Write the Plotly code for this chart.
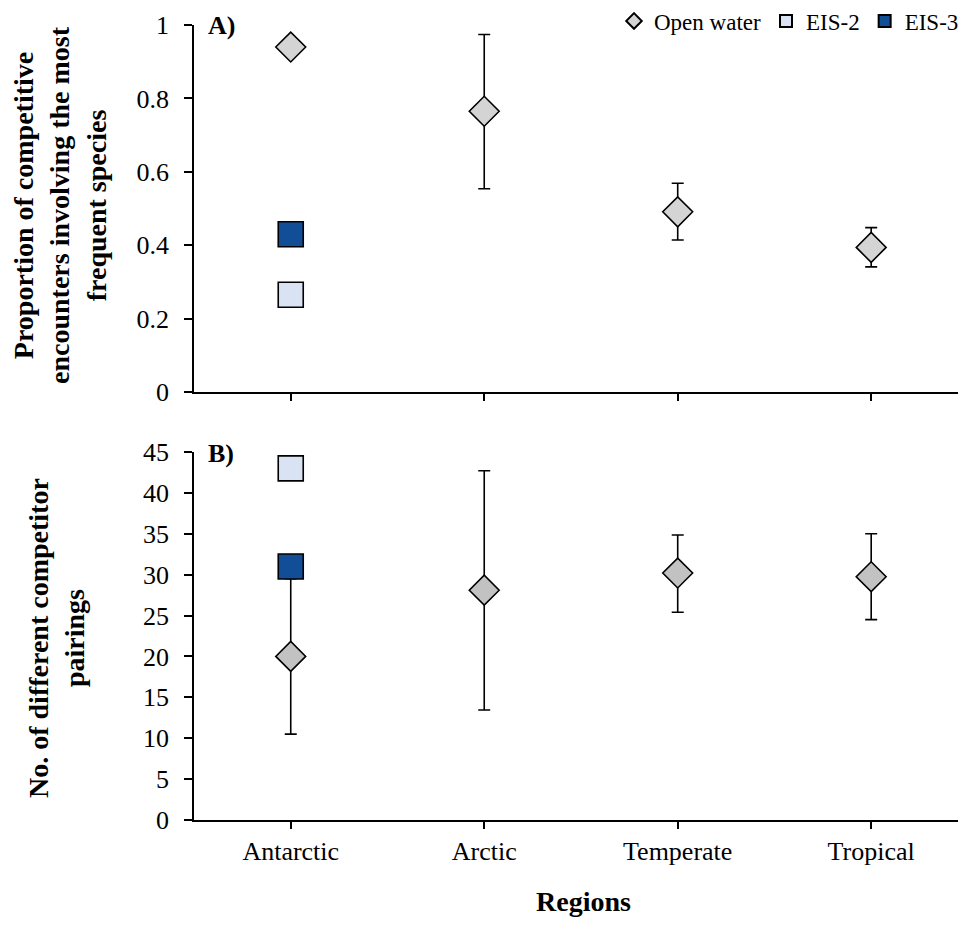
import plotly.graph_objects as go

regions = ["Antarctic", "Arctic", "Temperate", "Tropical"]

# Panel A: proportion of competitive encounters involving the most frequent species
a_open = [0.94, 0.765, 0.491, 0.394]
a_open_err_plus = [0.0, 0.209, 0.078, 0.054]
a_open_err_minus = [0.0, 0.211, 0.077, 0.053]
a_eis2 = [0.265]
a_eis3 = [0.43]

# Panel B: number of different competitor pairings
b_open = [20.0, 28.1, 30.2, 29.75]
b_open_err_plus = [9.5, 14.6, 4.65, 5.25]
b_open_err_minus = [9.5, 14.65, 4.8, 5.25]
b_eis2 = [43.0]
b_eis3 = [31.0]

a_ticks = [0, 0.2, 0.4, 0.6, 0.8, 1]
a_ticktext = ["0", "0.2", "0.4", "0.6", "0.8", "1"]
b_ticks = [0, 5, 10, 15, 20, 25, 30, 35, 40, 45]

FONT = "Liberation Serif, Times New Roman, serif"
GRAY_A = "#d4d4d4"
GRAY_B = "#c2c2c2"
EIS2_C = "#dae3f3"
EIS3_C = "#124e97"
LINE = dict(color="black", width=1.6)

fig = go.Figure()

def err(plus, minus):
    return dict(type="data", symmetric=False, array=plus, arrayminus=minus,
                color="black", thickness=1.6, width=6)

# Panel A
fig.add_trace(go.Scatter(x=regions, y=a_open, mode="markers", name="Open water",
                         marker=dict(symbol="diamond", size=23, color=GRAY_A, line=LINE),
                         error_y=err(a_open_err_plus, a_open_err_minus),
                         xaxis="x", yaxis="y"))
fig.add_trace(go.Scatter(x=regions[:1], y=a_eis2, mode="markers", name="EIS-2",
                         marker=dict(symbol="square", size=25, color=EIS2_C, line=LINE),
                         xaxis="x", yaxis="y"))
fig.add_trace(go.Scatter(x=regions[:1], y=a_eis3, mode="markers", name="EIS-3",
                         marker=dict(symbol="square", size=25, color=EIS3_C, line=LINE),
                         xaxis="x", yaxis="y"))

# Panel B
fig.add_trace(go.Scatter(x=regions, y=b_open, mode="markers", name="Open water", showlegend=False,
                         marker=dict(symbol="diamond", size=23, color=GRAY_B, line=LINE),
                         error_y=err(b_open_err_plus, b_open_err_minus),
                         xaxis="x2", yaxis="y2"))
fig.add_trace(go.Scatter(x=regions[:1], y=b_eis2, mode="markers", name="EIS-2", showlegend=False,
                         marker=dict(symbol="square", size=25, color=EIS2_C, line=LINE),
                         xaxis="x2", yaxis="y2"))
fig.add_trace(go.Scatter(x=regions[:1], y=b_eis3, mode="markers", name="EIS-3", showlegend=False,
                         marker=dict(symbol="square", size=25, color=EIS3_C, line=LINE),
                         xaxis="x2", yaxis="y2"))

# page body has an 8px margin; figure coordinates are screen coordinates minus 8
OFF = 8
W, H = 958, 910

def px(x):
    return (x - OFF) / W

def py(y):
    return 1 - (y - OFF) / H

x_dom = [px(194), 1.0]
ya_dom = [py(392), py(25)]
yb_dom = [py(820), py(452)]

xcommon = dict(type="category", categoryorder="array", categoryarray=regions,
               range=[-0.5, 3.49], showline=True, linecolor="black", linewidth=1.5,
               ticks="outside", ticklen=7, tickcolor="black", tickwidth=1.5,
               showgrid=False, zeroline=False, domain=x_dom, automargin=False,
               ticklabelstandoff=0,
               tickfont=dict(family=FONT, size=26, color="black"))
ycommon = dict(showline=True, linecolor="black", linewidth=1.5,
               ticks="outside", ticklen=8, tickcolor="black", tickwidth=1.5,
               showgrid=False, zeroline=False, automargin=False,
               ticklabelstandoff=10,
               tickfont=dict(family=FONT, size=26, color="black"))

fig.update_layout(
    width=W, height=H,
    margin=dict(l=0, r=0, t=0, b=0, autoexpand=False),
    paper_bgcolor="white", plot_bgcolor="white",
    font=dict(family=FONT, color="black"),
    xaxis=dict(xcommon, anchor="y", showticklabels=False),
    yaxis=dict(ycommon, domain=ya_dom, range=[0, 1], tickvals=a_ticks, ticktext=a_ticktext, anchor="x"),
    xaxis2=dict(xcommon, anchor="y2"),
    yaxis2=dict(ycommon, domain=yb_dom, range=[0, 45], tickvals=b_ticks, anchor="x2"),
    legend=dict(orientation="h", x=px(964), xanchor="right", y=py(21), yanchor="middle",
                font=dict(family=FONT, size=23, color="black"),
                itemsizing="constant", itemwidth=30, tracegroupgap=0,
                bgcolor="rgba(0,0,0,0)"),
    showlegend=True,
)

annos = [
    dict(text="<b>A)</b>", x=px(206), y=py(25), xref="paper", yref="paper",
         xanchor="left", yanchor="middle", showarrow=False, font=dict(family=FONT, size=26)),
    dict(text="<b>B)</b>", x=px(206), y=py(453), xref="paper", yref="paper",
         xanchor="left", yanchor="middle", showarrow=False, font=dict(family=FONT, size=26)),
    dict(text="<b>Proportion of competitive<br>encounters involving the most<br>frequent species</b>",
         x=px(60), y=py(205), xref="paper", yref="paper", textangle=-90,
         xanchor="center", yanchor="middle", showarrow=False, font=dict(family=FONT, size=28)),
    dict(text="<b>No. of different competitor<br>pairings</b>",
         x=px(56), y=py(638), xref="paper", yref="paper", textangle=-90,
         xanchor="center", yanchor="middle", showarrow=False, font=dict(family=FONT, size=28)),
    dict(text="<b>Regions</b>", x=px(583), y=0.0, xref="paper", yref="paper",
         xanchor="center", yanchor="bottom", showarrow=False, borderpad=0,
         font=dict(family=FONT, size=28)),
]
fig.update_layout(annotations=annos)

fig.write_html("out.html")
